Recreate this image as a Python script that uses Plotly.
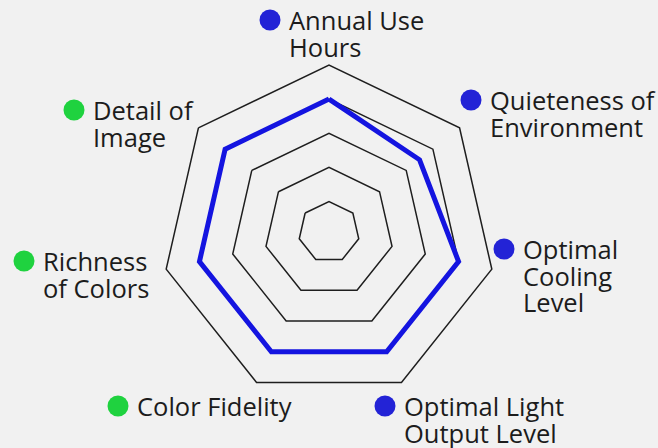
import plotly.graph_objects as go

# ---- data ----
categories = ["Annual Use Hours", "Quieteness of Environment", "Optimal Cooling Level",
              "Optimal Light Output Level", "Color Fidelity", "Richness of Colors",
              "Detail of Image"]
label_lines = [["Annual Use", "Hours"], ["Quieteness of", "Environment"],
               ["Optimal", "Cooling", "Level"], ["Optimal Light", "Output Level"],
               ["Color Fidelity"], ["Richness", "of Colors"], ["Detail of", "Image"]]
label_group = ["blue", "blue", "blue", "blue", "green", "green", "green"]
scores = [4, 3.5, 4, 4, 4, 4, 4]
ring_values = [1, 2, 3, 4, 5]

# ---- layout / style (pixel positions of label dots, top-left origin) ----
W, H = 658, 448
dot_pos = [(270, 20), (471, 100), (504, 249), (385, 406), (118, 406), (24, 261), (74, 110)]
text_gap = 17
line_gap = 26.5
colors = {"blue": "#2323d6", "green": "#1fd23f"}
cx, cy, R = 329, 232, 167

fig = go.Figure()

theta_closed = categories + [categories[0]]
r_closed = scores + [scores[0]]
fig.add_trace(go.Scatterpolar(
    r=r_closed, theta=theta_closed, mode="lines",
    line=dict(color="#1414e0", width=5), hoverinfo="skip", showlegend=False))

# label dots on a hidden pixel-space cartesian layer
fig.add_trace(go.Scatter(
    x=[p[0] for p in dot_pos], y=[p[1] for p in dot_pos], mode="markers",
    marker=dict(size=21, color=[colors[g] for g in label_group]),
    hoverinfo="skip", showlegend=False, xaxis="x", yaxis="y"))

annotations = []
for (px, py), lines in zip(dot_pos, label_lines):
    for i, ln in enumerate(lines):
        annotations.append(dict(
            x=px + text_gap, y=py + i * line_gap, xref="x", yref="y",
            text=ln, showarrow=False, xanchor="left", yanchor="middle",
            font=dict(family="Open Sans", size=25.5, color="#1c1c1c")))

fig.update_layout(
    width=W, height=H, margin=dict(l=0, r=0, t=0, b=0),
    paper_bgcolor="#f1f1f1", plot_bgcolor="rgba(0,0,0,0)",
    xaxis=dict(range=[0, W], visible=False, domain=[0, 1], fixedrange=True),
    yaxis=dict(range=[H, 0], visible=False, domain=[0, 1], fixedrange=True),
    polar=dict(
        domain=dict(x=[(cx - R) / W, (cx + R) / W],
                    y=[(H - cy - R) / H, (H - cy + R) / H]),
        bgcolor="#f1f1f1",
        gridshape="linear",
        radialaxis=dict(range=[0.106, 5], tickvals=ring_values, showticklabels=False,
                        ticks="", showline=False, gridcolor="#1e1e1e", gridwidth=1.5),
        angularaxis=dict(direction="clockwise", rotation=90, showticklabels=False,
                         ticks="", showgrid=False, showline=True,
                         linecolor="#1e1e1e", linewidth=1.5),
    ),
    annotations=annotations,
    showlegend=False,
)

fig.write_html("out.html", config={"displayModeBar": False, "staticPlot": True},
               post_script="document.body.style.margin='0';document.body.style.background='#f1f1f1';")
